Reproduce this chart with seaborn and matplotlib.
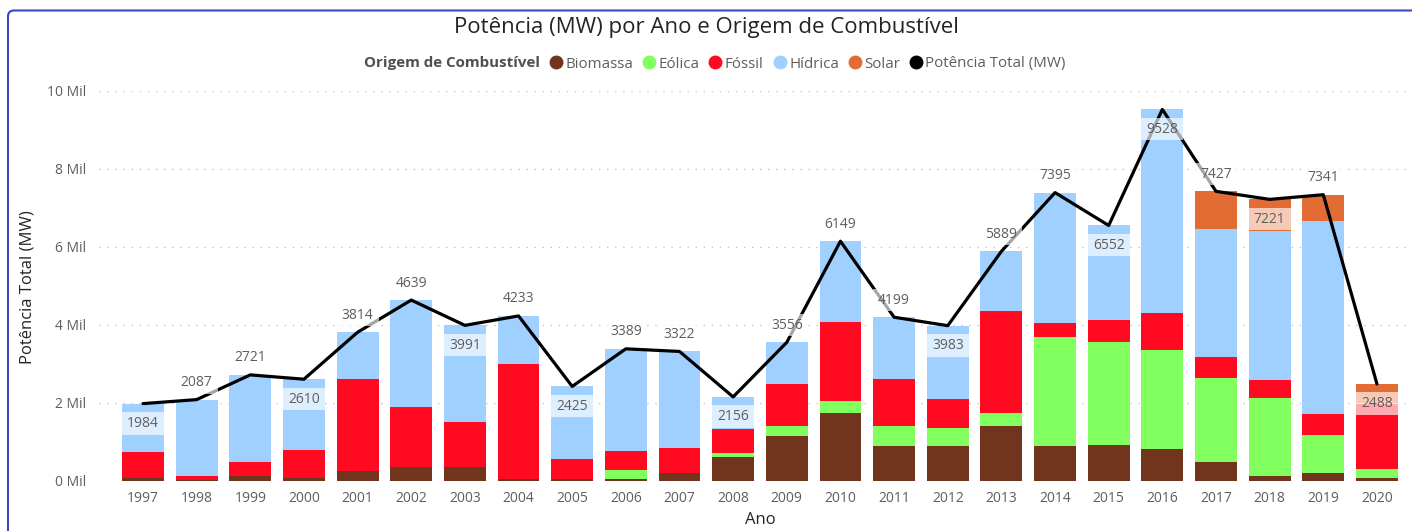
import numpy as np
import pandas as pd
import matplotlib
matplotlib.use("Agg")
import matplotlib.pyplot as plt
import seaborn as sns
from matplotlib.lines import Line2D
from matplotlib.patches import Rectangle, FancyBboxPatch
from matplotlib.transforms import IdentityTransform

# ---------------- data ----------------
anos = list(range(1997, 2021))
biomassa = [70, 20, 137, 65, 265, 368, 350, 60, 55, 55, 197, 624, 1145, 1735, 897, 897,
            1419, 897, 914, 812, 496, 128, 214, 77]
eolica = [0, 0, 0, 0, 0, 0, 0, 0, 0, 227, 0, 85, 265, 325, 505, 462,
          325, 2787, 2659, 2547, 2154, 2009, 974, 222]
fossil = [680, 110, 359, 721, 2342, 1538, 1154, 2950, 501, 487, 649, 616, 1077, 2008, 1205, 752,
          2606, 367, 555, 949, 521, 444, 530, 1667]
hidrica = [1234, 1957, 2225, 1824, 1207, 2733, 2487, 1223, 1869, 2620, 2476, 831, 1069, 2081, 1592, 1872,
           1539, 3344, 2424, 5220, 3299, 3829, 4949, 25]
solar = [0, 0, 0, 0, 0, 0, 0, 0, 0, 0, 0, 0, 0, 0, 0, 0,
         0, 0, 0, 0, 957, 811, 674, 497]
potencia_total = [1984, 2087, 2721, 2610, 3814, 4639, 3991, 4233, 2425, 3389, 3322, 2156, 3556, 6149,
                  4199, 3983, 5889, 7395, 6552, 9528, 7427, 7221, 7341, 2488]
rotulo_abaixo = [1997, 2000, 2003, 2005, 2008, 2012, 2015, 2016, 2018, 2020]

series_names = ["Biomassa", "Eólica", "Fóssil", "Hídrica", "Solar"]
series_vals = [biomassa, eolica, fossil, hidrica, solar]
palette = {"Biomassa": "#71351E", "Eólica": "#80FF5E", "Fóssil": "#FF0A21",
           "Hídrica": "#A0D0FF", "Solar": "#E36C35"}

# ---------------- style ----------------
sns.set_theme(style="white")
plt.rcParams["font.family"] = ["Open Sans", "DejaVu Sans"]

W, H = 1412, 531
fig = plt.figure(figsize=(W / 100, H / 100), dpi=100)
fig.patch.set_facecolor("white")
ax = fig.add_axes([99 / W, 50 / H, 1308 / W, 390 / H])

df = pd.DataFrame({"Ano": anos})
for n, v in zip(series_names, series_vals):
    df[n] = v

# stacked bars: draw cumulative sums from top to bottom
n = len(anos)
cum = np.zeros(n)
cums = []
for name in series_names:
    cum = cum + df[name].to_numpy()
    cums.append(cum.copy())
for name, c in reversed(list(zip(series_names, cums))):
    sns.barplot(x=df["Ano"], y=c, color=palette[name], width=0.78, saturation=1,
                errorbar=None, linewidth=0, ax=ax, zorder=2)

# total line
sns.lineplot(x=np.arange(n), y=potencia_total, color="black", linewidth=2.3,
             ax=ax, zorder=3)

ax.set_ylim(0, 10000)
ax.set_xlim(-0.82, 23.56)
ax.set_yticks(range(0, 10001, 2000))
ax.set_yticklabels([f"{v // 1000} Mil" for v in range(0, 10001, 2000)])
ax.set_xticks(range(n))
ax.set_xticklabels([str(a) for a in anos])
ax.set_xlabel("")
ax.set_ylabel("")
for s in ax.spines.values():
    s.set_visible(False)
ax.tick_params(axis="both", length=0, labelsize=10, labelcolor="#605E5C")
ax.tick_params(axis="y", pad=9.4)
ax.tick_params(axis="x", pad=7)
ax.yaxis.grid(True, linestyle=(0, (1, 4.8)), color="#c4c4c4", linewidth=1.0)
ax.xaxis.grid(False)
ax.set_axisbelow(True)

# data labels with semi-transparent boxes
ax_h_px = ax.get_position().height * H
mw_per_px = 10000 / ax_h_px
for i, (a, t) in enumerate(zip(anos, potencia_total)):
    if a in rotulo_abaixo:
        box_top = t - 8.5 * mw_per_px
        box_bot = t - 31 * mw_per_px
        ty = t - 20 * mw_per_px
    else:
        box_top = t + 28 * mw_per_px
        box_bot = t + 6 * mw_per_px
        ty = t + 17 * mw_per_px
    ax.add_patch(Rectangle((i - 0.39, box_bot), 0.78, box_top - box_bot,
                           facecolor="white", alpha=0.65, linewidth=0, zorder=4))
    ax.text(i, ty, str(t), ha="center", va="center", fontsize=10,
            color="#605E5C", zorder=5)

# titles
fig.text(0.5, 1 - 27 / H, "Potência (MW) por Ano e Origem de Combustível",
         ha="center", va="center", fontsize=16, color="#252423")
fig.text(28 / W, 1 - 287 / H, "Potência Total (MW)", rotation=90,
         ha="center", va="center", fontsize=12, color="#252423")
fig.text(760 / W, 1 - 520 / H, "Ano", ha="center", va="center",
         fontsize=12, color="#252423")

# legend
handles = [Line2D([], [], linestyle="none", marker="None")]
labels = ["Origem de Combustível"]
for name in series_names:
    handles.append(Line2D([], [], linestyle="none", marker="o", markersize=9,
                          markerfacecolor=palette[name], markeredgecolor=palette[name]))
    labels.append(name)
handles.append(Line2D([], [], linestyle="none", marker="o", markersize=9,
                      markerfacecolor="black", markeredgecolor="black"))
labels.append("Potência Total (MW)")
leg = fig.legend(handles, labels, loc="center", bbox_to_anchor=(707 / W, 1 - 64 / H),
                 ncol=7, frameon=False, fontsize=10.9, handlelength=0.85,
                 handletextpad=0.2, columnspacing=0.62, borderpad=0, borderaxespad=0)
for k, txt in enumerate(leg.get_texts()):
    if k == 0:
        txt.set_fontweight("bold")
        txt.set_color("#505050")
    else:
        txt.set_color("#605E5C")

# container border
border = FancyBboxPatch((8, -30), 1450, H - 10.5 + 30,
                        boxstyle="round,pad=0,rounding_size=6",
                        transform=IdentityTransform(), fill=False,
                        edgecolor="#3A46C2", linewidth=1.5)
fig.add_artist(border)

fig.savefig("out.png", dpi=100)
